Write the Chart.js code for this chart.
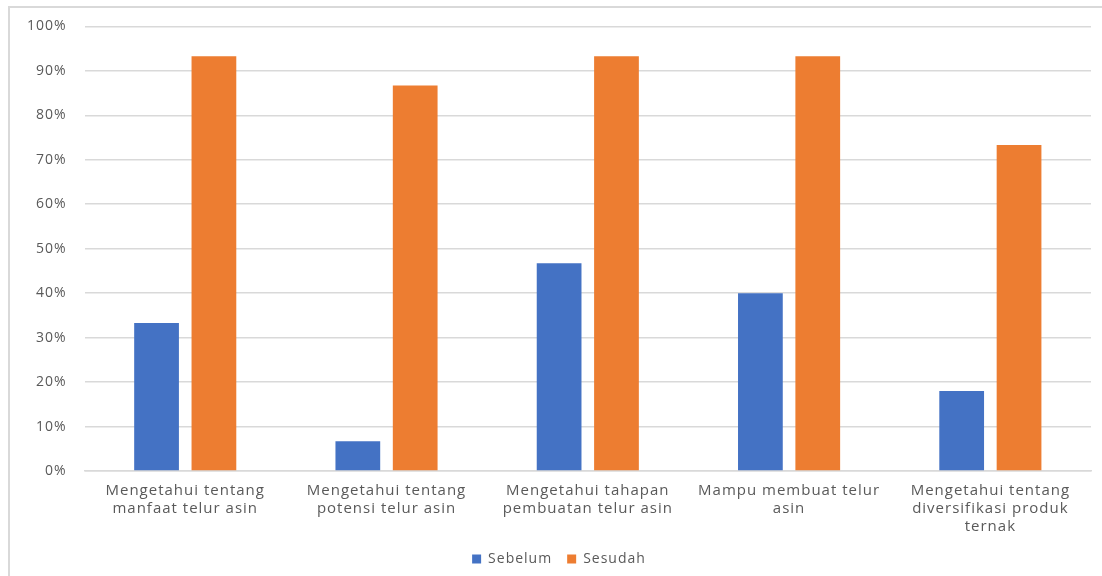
<!DOCTYPE html>
<html>
<head>
<meta charset="utf-8">
<script src="https://cdn.jsdelivr.net/npm/chart.js@4"></script>
<style>
    body { margin: 0; background: #fff; }
    #wadah { position: relative; width: 1102px; height: 576px; }
    #bingkai { position: absolute; left: 8px; top: 6px; width: 1100px; height: 580px;
               border-left: 2px solid #d9d9d9; border-top: 2px solid #d9d9d9; }
</style>
</head>
<body>
<div id="wadah">
    <div id="bingkai"></div>
    <canvas id="grafik"></canvas>
</div>
<script>
// data dari gambar
const kategori = [
    ['Mengetahui tentang', 'manfaat telur asin'],
    ['Mengetahui tentang', 'potensi telur asin'],
    ['Mengetahui tahapan', 'pembuatan telur asin'],
    ['Mampu membuat telur', 'asin'],
    ['Mengetahui tentang', 'diversifikasi produk', 'ternak']
];
const sebelum = [33.3, 6.7, 46.7, 40, 18];
const sesudah = [93.3, 86.7, 93.3, 93.3, 73.3];

// spasi huruf supaya mirip tampilan aslinya
const spasiHuruf = {
    id: 'spasiHuruf',
    beforeInit(chart) { chart.ctx.letterSpacing = '1px'; },
    beforeDraw(chart) { chart.ctx.letterSpacing = '1px'; }
};

function montarGrafik() {
    const ctx = document.getElementById('grafik').getContext('2d');

    new Chart(ctx, {
        type: 'bar',
        data: {
            labels: kategori,
            datasets: [
                {
                    label: 'Sebelum',
                    data: sebelum,
                    backgroundColor: '#4472c4'
                },
                {
                    label: 'Sesudah',
                    data: sesudah,
                    backgroundColor: '#ed7d31'
                }
            ]
        },
        options: {
            responsive: true,
            maintainAspectRatio: false,
            animation: false,
            categoryPercentage: 0.57,
            barPercentage: 0.78,
            layout: {
                padding: {left: 13, right: 11, top: 7, bottom: 0}
            },
            scales: {
                x: {
                    grid: {display: false, drawTicks: false},
                    border: {color: '#d9d9d9', width: 1.5},
                    ticks: {
                        color: '#595959',
                        font: {family: 'Open Sans', size: 15, lineHeight: 1.2},
                        padding: 11,
                        maxRotation: 0
                    },
                    afterFit: (scale) => { scale.height = 66; } // tinggi sumbu x tetap
                },
                y: {
                    min: 0,
                    max: 100,
                    grid: {color: '#d9d9d9', lineWidth: 1.5, drawTicks: false},
                    border: {display: false},
                    ticks: {
                        stepSize: 10,
                        color: '#595959',
                        font: {family: 'Open Sans', size: 14},
                        padding: 18,
                        callback: (v) => v + '%'
                    }
                }
            },
            plugins: {
                legend: {
                    position: 'bottom',
                    labels: {
                        boxWidth: 9,
                        boxHeight: 9,
                        padding: 15,
                        color: '#595959',
                        font: {family: 'Open Sans', size: 14}
                    }
                },
                tooltip: {enabled: false}
            }
        },
        plugins: [spasiHuruf]
    });
}

montarGrafik();
</script>
</body>
</html>
